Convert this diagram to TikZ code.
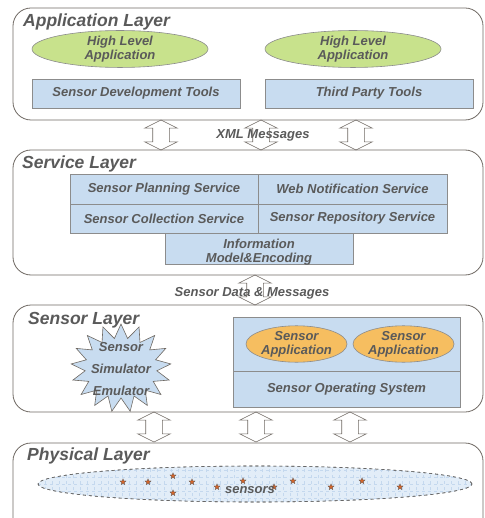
\documentclass[tikz,border=0pt]{standalone}
\usepackage{fontspec}
\setmainfont{Liberation Sans}
\usetikzlibrary{shapes.geometric,shapes.symbols,shapes.arrows}
\definecolor{txtc}{HTML}{5A5A5A}
\definecolor{layc}{HTML}{6E6862}
\definecolor{boxc}{HTML}{C8DCF0}
\definecolor{boxd}{HTML}{8C8C8C}
\definecolor{grn}{HTML}{C8E28C}
\definecolor{org}{HTML}{F6BE60}
\definecolor{ellfill}{HTML}{E2EDF8}
\definecolor{gridc}{HTML}{C4D8EE}
\definecolor{starc}{HTML}{D2642A}
\tikzset{
  layer/.style={draw=layc, line width=0.8pt, rounded corners=18pt, minimum width=470pt, inner sep=0pt},
  ltitle/.style={anchor=west, inner sep=0pt, text=txtc, font=\fontsize{17.5}{20}\selectfont\bfseries\itshape},
  lbl/.style={text=txtc, font=\fontsize{13}{14}\selectfont\bfseries\itshape, align=center},
  bluebox/.style={draw=boxd, fill=boxc, line width=0.6pt, inner sep=0pt},
  greenell/.style={ellipse, draw=boxd, fill=grn, line width=0.6pt, inner sep=0pt, minimum width=176pt, minimum height=34pt},
  orgell/.style={ellipse, draw=boxd, fill=org, line width=0.6pt, inner sep=0pt, minimum width=101pt, minimum height=36pt},
  darr/.style={double arrow, draw=layc, line width=0.6pt, rotate=90, inner xsep=0pt, inner ysep=8pt,
    minimum height=30pt, minimum width=32pt, double arrow head extend=8pt, double arrow head indent=0pt, double arrow tip angle=127},
  sstar/.style={star, star points=5, star point ratio=2.3, fill=starc, draw=black!70, line width=0.2pt, minimum size=6.5pt, inner sep=0pt}
}
\begin{document}
\begin{tikzpicture}[x=1pt,y=-1pt]
\path[use as bounding box] (0,0) rectangle (484,518);
% layers
\node[layer, minimum height=112pt] (app) at (248,64) {};
\node[layer, minimum height=125pt] (serv) at (248,212.5) {};
\node[layer, minimum height=107pt] (sens) at (248,358.5) {};
\node[layer, minimum height=100pt] (phys) at (248,493) {};
\node[ltitle] (appt) at (23,22) {Application Layer};
\node[ltitle] (servt) at (22,164) {Service Layer};
\node[ltitle] (senst) at (28,320) {Sensor Layer};
\node[ltitle] (physt) at (27,456) {Physical Layer};
% application layer
\node[greenell, lbl] (hla1) at (120,49) {High Level\\Application};
\node[greenell, lbl] (hla2) at (353,49) {High Level\\Application};
\node[bluebox, lbl, minimum width=208pt, minimum height=29pt] (sdt) at (136,93.5) {Sensor Development Tools};
\node[bluebox, lbl, minimum width=208pt, minimum height=29pt] (tpt) at (369,93.5) {Third Party Tools};
% service layer
\node[bluebox, lbl, minimum width=188pt, minimum height=30pt] (sps) at (164,189) {\raisebox{-3pt}{Sensor Planning Service}};
\node[bluebox, lbl, minimum width=189pt, minimum height=30pt] (wns) at (352.5,189) {\raisebox{1pt}{Web Notification Service}};
\node[bluebox, lbl, minimum width=188pt, minimum height=29pt] (scs) at (164,218.5) {Sensor Collection Service};
\node[bluebox, lbl, minimum width=189pt, minimum height=29pt] (srs) at (352.5,218.5) {Sensor Repository Service};
\node[bluebox, minimum width=188pt, minimum height=31pt] (ime) at (259,248.5) {};
\node[lbl] (imet) at (259,252.5) {Information\\Model\&Encoding};
% sensor layer
\node[starburst, starburst points=17, starburst point height=14pt, random starburst=0,
  draw=layc, fill=boxc, line width=0.6pt, minimum width=100pt, minimum height=88pt, inner sep=0pt] (sim) at (121,368) {};
\node[lbl, font=\fontsize{13}{22}\selectfont\bfseries\itshape] (simt) at (121,369) {Sensor\\Simulator\\Emulator};
\node[bluebox, minimum width=227pt, minimum height=54pt] (apparea) at (346.5,344) {};
\node[bluebox, lbl, minimum width=227pt, minimum height=36pt] (sos) at (346.5,389) {Sensor Operating System};
\node[orgell, lbl] (sa1) at (296.5,344) {Sensor\\Application};
\node[orgell, lbl] (sa2) at (403.5,344) {Sensor\\Application};
% physical layer
\node[ellipse, draw=black!60, dashed, line width=0.6pt, fill=ellfill, minimum width=434pt, minimum height=36pt, inner sep=0pt,
  path picture={\draw[gridc, line width=0.4pt, step=7pt] (path picture bounding box.south west) grid (path picture bounding box.north east);}] (sensors) at (255,484) {};
\node[ellipse, draw=black!60, dashed, line width=0.6pt, minimum width=434pt, minimum height=36pt, inner sep=0pt] (sensorsb) at (255,484) {};
\foreach \i/\xx/\yy in {1/123/482,2/148/482,3/173/476,4/173/493,5/192/482,6/217/487,7/243/481,8/274/487,9/293/481,10/331/487,11/362/481,12/400/487}
  \node[sstar] (st\i) at (\xx,\yy) {};
\node[lbl] (senst2) at (250,490) {sensors};
% labels between layers
\node[lbl] (xml) at (263,135) {XML Messages};
\node[lbl] (sdm) at (252,293) {Sensor Data \& Messages};
% double arrows
\node[darr] (a1) at (161,135) {};
\node[darr] (a2) at (261,135) {};
\node[darr] (a3) at (356,135) {};
\node[darr] (a4) at (255,290) {};
\node[darr] (a5) at (154,427) {};
\node[darr] (a6) at (256,427) {};
\node[darr] (a7) at (350,427) {};
\end{tikzpicture}
\end{document}
